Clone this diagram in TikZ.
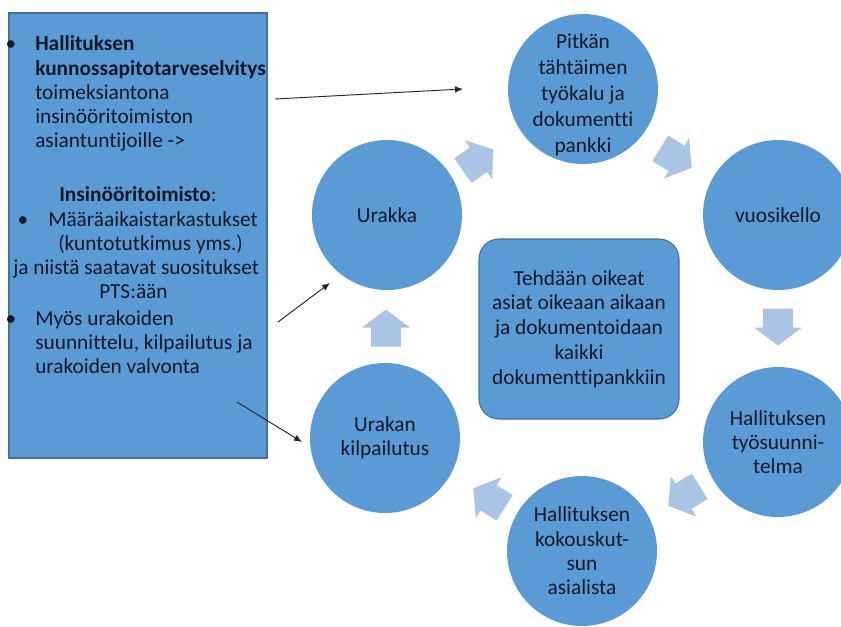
\documentclass[tikz,border=0pt]{standalone}
\usepackage{fontspec}
\setmainfont{Carlito}[Ligatures={NoCommon,NoContextual}]
\usetikzlibrary{arrows.meta}
\definecolor{fillblue}{RGB}{91,155,213}
\definecolor{edgeblue}{RGB}{65,113,156}
\definecolor{arrowblue}{RGB}{170,196,230}
\definecolor{ink}{RGB}{18,24,38}
\begin{document}
\begin{tikzpicture}[x=0.75pt,y=-0.75pt,
  font=\fontsize{16}{18.2}\selectfont,
  stage/.style={circle, fill=fillblue, minimum size=112.5pt, inner sep=0pt,
    text=ink, align=center},
  row/.style={anchor=base west, text=ink, inner sep=0pt},
  dot/.style={anchor=base, text=ink, inner sep=0pt},
  link/.style={draw=black!85, line width=0.7pt, -{Latex[length=6pt,width=5pt]}},
  flow/.pic={\fill[arrowblue] (-18.5,-15) -- (0.5,-15) -- (0.5,-24) -- (18.5,0)
    -- (0.5,24) -- (0.5,15) -- (-18.5,15) -- cycle;}
]
\useasboundingbox (0,0) rectangle (841,626);

% left information panel
\node[rectangle, draw=edgeblue, line width=0.8pt, fill=fillblue,
  minimum width=193.5pt, minimum height=333.75pt, inner sep=0pt] (lbox) at (138,235.5) {};
\node[dot] (b1) at (11,50) {•};
\node[row] (t1) at (35,50) {\textbf{Hallituksen}};
\node[row] (t2) at (35,75) {\textbf{kunnossapitotarveselvitys}};
\node[row] (t3) at (35,99) {toimeksiantona};
\node[row] (t4) at (35,123) {insinööritoimiston};
\node[row] (t5) at (35,147) {asiantuntijoille ->};
\node[row] (t6) at (59,201) {\textbf{Insinööritoimisto}:};
\node[dot] (b2) at (23,226) {•};
\node[row] (t7) at (48,226) {Määräaikaistarkastukset};
\node[row] (t8) at (58,250) {(kuntotutkimus yms.)};
\node[row] (t9) at (13,274) {ja niistä saatavat suositukset};
\node[row] (t10) at (99,298) {PTS:ään};
\node[dot] (b3) at (11,325) {•};
\node[row] (t11) at (35,325) {Myös urakoiden};
\node[row] (t12) at (35,349) {suunnittelu, kilpailutus ja};
\node[row] (t13) at (35,373) {urakoiden valvonta};

% cycle stages
\node[stage] (pitka) at (583,89) {};
\node[text=ink, align=center, inner sep=0pt, font=\fontsize{16}{19.5}\selectfont]
  (pitkatext) at (583,95) {Pitkän\\tähtäimen\\työkalu ja\\dokumentti\\pankki};
\node[stage] (urakka) at (387,215) {Urakka};
\node[stage] (vuosi) at (778,215) {vuosikello};
\node[stage] (tyo) at (778,442) {Hallituksen\\työsuunni-\\telma};
\node[stage] (kokous) at (582,551) {Hallituksen\\kokouskut-\\sun\\asialista};
\node[stage] (kilp) at (385,438) {Urakan\\kilpailutus};

% centre goal
\node[rectangle, rounded corners=15pt, draw=edgeblue, line width=0.8pt, fill=fillblue,
  minimum width=150pt, minimum height=135pt, text=ink, align=center,
  font=\fontsize{16}{18.6}\selectfont] (goal) at (579,329)
  {Tehdään oikeat\\asiat oikeaan aikaan\\ja dokumentoidaan\\kaikki\\dokumenttipankkiin};

% cycle arrows
\pic (f1) [rotate=35] at (478,160) {flow};
\pic (f2) [rotate=-32] at (676,158) {flow};
\pic (f3) [rotate=-90] at (778,327) {flow};
\pic (f4) [rotate=-148] at (684,496) {flow};
\pic (f5) [rotate=148] at (489,498) {flow};
\pic (f6) [rotate=90] at (386,328) {flow};

% pointers from the panel
\coordinate (c1s) at (275,99);
\coordinate (c1e) at (463,89);
\coordinate (c2s) at (278,322);
\coordinate (c2e) at (330,283);
\coordinate (c3s) at (237,402);
\coordinate (c3e) at (302,442);
\draw[link] (c1s) -- (c1e);
\draw[link] (c2s) -- (c2e);
\draw[link] (c3s) -- (c3e);
\end{tikzpicture}
\end{document}
